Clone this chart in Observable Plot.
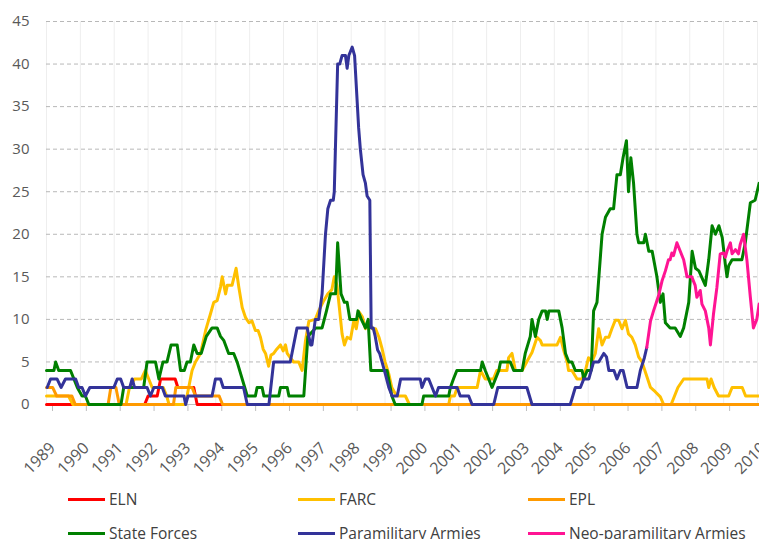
<!DOCTYPE html>
<html><head><meta charset="utf-8">
<script src="https://cdn.jsdelivr.net/npm/d3@7"></script>
<script src="https://cdn.jsdelivr.net/npm/@observablehq/plot@0.6"></script>
<style>
body{margin:0;background:#fff;font-family:"Open Sans",sans-serif;}
#wrap{position:relative;width:759px;height:539px;overflow:hidden;}
.leg{position:absolute;display:flex;align-items:center;font-size:15.5px;color:#404040;white-space:nowrap;line-height:16px;}
.leg .sw{display:inline-block;width:37px;height:3px;margin-right:4px;}
</style></head><body><div id="wrap"></div>
<script>
const seriesNames = ["ELN","FARC","EPL","State Forces","Paramilitary Armies","Neo-paramilitary Armies"];
const seriesColors = ["#FF0000","#FFC000","#FF9A00","#008000","#333399","#FF1493"];
const yearLabels = ["1989","1990","1991","1992","1993","1994","1995","1996","1997","1998","1999","2000","2001","2002","2003","2004","2005","2006","2007","2008","2009","2010"];
const yTicks = [0,5,10,15,20,25,30,35,40,45];

const eln = [[1989,0],[1991.9,0],[1992.0,1],[1992.27,1],[1992.37,3],[1992.8,3],[1992.88,2],[1993.35,2],[1993.45,0],[2010.05,0]];
const farc = [[1989,1],[1989.65,1],[1989.78,0],[1991.35,0],[1991.45,2],[1991.6,3],[1991.8,3],[1991.92,4],[1992.02,3],[1992.12,2],[1992.45,2],[1992.55,1],[1992.62,0],[1993.1,0],[1993.2,2],[1993.3,4],[1993.4,5],[1993.55,6],[1993.7,8.7],[1993.84,10.6],[1993.94,12],[1994.04,12.2],[1994.14,13.8],[1994.19,15],[1994.29,13],[1994.34,14],[1994.48,14],[1994.6,16],[1994.68,13.8],[1994.78,11.4],[1994.88,10.2],[1994.98,9.6],[1995.07,9.8],[1995.17,8.7],[1995.25,8.7],[1995.32,7.9],[1995.4,6.5],[1995.47,6],[1995.56,4.5],[1995.63,5.8],[1995.71,6],[1995.8,6.5],[1995.91,7],[1995.99,6.3],[1996.06,7],[1996.11,6],[1996.2,5.5],[1996.3,5],[1996.45,5],[1996.55,4],[1996.65,7.5],[1996.75,9.8],[1996.94,10],[1997.04,11],[1997.19,12.2],[1997.31,13],[1997.43,13.5],[1997.5,15],[1997.58,14],[1997.65,11.4],[1997.73,8.3],[1997.8,7],[1997.88,7.9],[1997.98,7.7],[1998.08,9.9],[1998.15,8.9],[1998.23,10.9],[1998.33,10.3],[1998.42,8.9],[1998.52,9.9],[1998.62,8.9],[1998.72,8.9],[1998.82,7.9],[1998.91,6.6],[1999.0,5],[1999.11,3.6],[1999.2,2],[1999.3,1.3],[1999.4,1],[1999.6,1],[1999.72,0],[2000.88,0],[2000.93,1],[2001.05,1],[2001.13,2],[2001.72,2],[2001.77,3],[2001.82,4],[2001.96,3],[2002.2,3],[2002.3,4],[2002.6,4],[2002.65,5.5],[2002.75,6],[2002.85,4],[2003.05,4],[2003.24,5.4],[2003.34,6.1],[2003.49,7.9],[2003.59,7.5],[2003.64,7],[2004.08,7],[2004.18,7.9],[2004.28,6.3],[2004.38,5],[2004.42,4],[2004.52,4],[2004.67,3],[2004.82,3],[2004.92,4],[2005.01,5.5],[2005.11,5],[2005.21,6],[2005.31,8.9],[2005.41,7],[2005.51,7.9],[2005.61,7.9],[2005.7,8.9],[2005.8,9.9],[2005.9,9.9],[2006.0,8.9],[2006.1,9.9],[2006.19,8.3],[2006.29,7.9],[2006.39,7],[2006.49,5.6],[2006.59,5],[2006.74,3.2],[2006.84,2],[2006.98,1.5],[2007.13,0.9],[2007.23,0],[2007.45,0],[2007.55,1],[2007.65,2],[2007.82,3],[2008.51,3],[2008.56,2],[2008.63,3],[2008.72,2],[2008.85,1],[2009.15,1],[2009.25,2],[2009.55,2],[2009.65,1],[2010.05,1]];
const epl = [[1989,2],[1989.18,2],[1989.3,1],[1989.75,1],[1989.85,0],[1990.82,0],[1990.9,2],[1991.05,2],[1991.15,0],[1992.75,0],[1992.82,2],[1993.3,2],[1993.4,1],[1994.1,1],[1994.2,0],[2010.05,0]];
const stateForces = [[1989.0,4],[1989.22,4],[1989.27,5],[1989.36,4],[1989.71,4],[1989.91,2],[1990.05,1],[1990.15,1],[1990.25,0],[1991.2,0],[1991.28,2],[1991.87,2],[1991.97,5],[1992.22,5],[1992.32,3],[1992.44,5],[1992.56,5],[1992.68,7],[1992.86,7],[1992.96,4],[1993.07,4],[1993.15,5],[1993.25,5],[1993.35,7],[1993.45,6],[1993.57,6],[1993.72,8],[1993.89,9],[1994.04,9],[1994.14,8],[1994.24,7.5],[1994.38,6],[1994.53,6],[1994.63,5],[1994.93,1],[1995.17,1],[1995.22,2],[1995.37,2],[1995.42,1],[1995.86,1],[1995.91,2],[1996.11,2],[1996.16,1],[1996.6,1],[1996.72,8],[1996.95,9],[1997.14,9],[1997.27,11],[1997.39,13],[1997.54,13],[1997.6,19],[1997.7,13],[1997.8,12],[1997.88,12],[1997.96,10],[1998.16,10],[1998.2,11],[1998.3,10],[1998.42,9],[1998.5,10],[1998.58,4],[1999.06,4],[1999.2,1],[1999.3,0],[2000.09,0],[2000.14,1],[2000.88,1],[2000.93,2],[2001.02,3],[2001.12,4],[2001.82,4],[2001.87,5],[2001.96,4],[2002.06,3],[2002.16,2],[2002.26,3],[2002.36,4],[2002.41,5],[2002.7,5],[2002.8,4],[2003.05,4],[2003.14,6],[2003.29,8],[2003.34,10],[2003.44,8],[2003.54,10],[2003.64,11],[2003.74,11],[2003.79,10],[2003.84,11],[2004.13,11],[2004.23,9],[2004.33,6],[2004.43,5],[2004.52,5],[2004.62,4],[2004.82,4],[2004.87,3],[2004.97,4],[2005.09,4],[2005.16,11],[2005.26,12],[2005.41,20],[2005.51,22],[2005.65,23],[2005.75,23],[2005.85,27],[2005.95,27],[2006.03,29],[2006.13,31],[2006.19,25],[2006.26,29],[2006.34,26],[2006.44,20],[2006.49,19],[2006.64,19],[2006.69,20],[2006.79,18],[2006.89,18],[2007.03,15],[2007.13,12],[2007.21,13],[2007.28,9.6],[2007.42,9],[2007.57,9],[2007.72,8],[2007.82,9],[2007.97,12],[2008.07,18],[2008.17,16],[2008.27,15.7],[2008.46,14],[2008.56,17],[2008.66,21],[2008.76,20],[2008.86,21],[2008.96,19.6],[2009.05,16.5],[2009.1,15],[2009.15,16.3],[2009.25,17],[2009.54,17],[2009.64,19],[2009.79,23.7],[2009.93,24],[2010.05,26]];
const paramilitary = [[1989.02,2],[1989.12,3],[1989.31,3],[1989.43,2],[1989.56,3],[1989.86,3],[1989.95,2],[1990.05,2],[1990.15,1],[1990.28,2],[1990.99,2],[1991.09,3],[1991.19,3],[1991.28,2],[1991.46,2],[1991.53,3],[1991.6,2],[1991.97,2],[1992.07,1],[1992.17,2],[1992.42,2],[1992.51,1],[1993.06,1],[1993.11,0],[1993.18,1],[1993.89,1],[1993.99,3],[1994.14,3],[1994.22,2],[1994.82,2],[1994.93,0],[1995.57,0],[1995.71,5],[1996.2,5],[1996.25,6],[1996.4,9],[1996.7,9],[1996.8,7],[1996.84,7],[1996.94,10],[1997.04,10],[1997.14,13],[1997.24,20],[1997.31,23],[1997.39,24],[1997.47,24],[1997.5,25],[1997.6,40],[1997.66,40],[1997.73,41],[1997.83,41],[1997.88,39.5],[1997.93,41],[1998.03,42],[1998.1,41],[1998.22,32.5],[1998.27,30],[1998.35,27],[1998.42,26],[1998.47,24.5],[1998.55,24],[1998.59,9],[1998.65,9],[1998.71,8],[1998.78,6.4],[1998.84,6],[1998.91,5],[1998.98,4],[1999.11,2],[1999.21,1],[1999.36,1],[1999.46,3],[2000.04,3],[2000.09,2],[2000.19,3],[2000.29,3],[2000.39,2],[2000.49,1],[2000.58,2],[2001.13,2],[2001.22,1],[2001.47,1],[2001.57,0],[2002.21,0],[2002.33,2],[2003.19,2],[2003.34,0],[2004.47,0],[2004.62,2],[2004.77,2],[2004.87,3],[2005.02,3],[2005.16,5],[2005.31,5],[2005.46,6],[2005.54,5.6],[2005.61,4],[2005.76,4],[2005.85,3],[2005.95,4],[2006.03,4],[2006.15,2],[2006.44,2],[2006.54,4],[2006.66,5.5],[2006.73,6.7]];
const neoParamilitary = [[2006.73,6.7],[2006.84,9.8],[2006.93,11],[2007.08,12.8],[2007.18,14.5],[2007.28,15.7],[2007.37,17],[2007.42,17],[2007.47,17.8],[2007.52,17.5],[2007.62,19],[2007.72,18],[2007.82,17],[2007.92,15],[2008.06,15],[2008.16,14],[2008.21,12.6],[2008.31,13.4],[2008.36,11.8],[2008.46,11],[2008.56,9],[2008.61,7],[2008.7,10.6],[2008.8,13.7],[2008.9,17.7],[2009.0,17.8],[2009.05,17.3],[2009.1,18],[2009.2,19],[2009.25,17.7],[2009.35,18.2],[2009.44,17.7],[2009.49,18.8],[2009.59,20],[2009.69,16.9],[2009.79,12.6],[2009.88,9],[2009.98,10],[2010.05,11.8]];

const seriesData = [eln, farc, epl, stateForces, paramilitary, neoParamilitary];
const yearTicks = yearLabels.map(Number);
const rows = seriesNames.flatMap((name, i) => seriesData[i].map(([t, v]) => ({name, t, v})));

const chart = Plot.plot({
  width: 759, height: 539,
  marginLeft: 46, marginRight: 0, marginTop: 21, marginBottom: 135,
  style: {fontFamily: "'Open Sans', sans-serif", fontSize: "15px", background: "transparent"},
  x: {domain: [1989, 2010.06]},
  y: {domain: [0, 45]},
  color: {domain: seriesNames, range: seriesColors},
  marks: [
    Plot.ruleX(yearTicks, {stroke: "#eeeeee"}),
    Plot.gridY(yTicks, {stroke: "#b8b8b8", strokeOpacity: 1, strokeDasharray: "4,3"}),
    Plot.axisY(yTicks, {tickSize: 0, tickPadding: 17, fill: "#595959", fontSize: 15, label: null}),
    Plot.axisX(yearTicks, {tickFormat: d => yearLabels[d - 1989], tickRotate: -45, tickSize: 7, tickPadding: 34, dx: 6, stroke: "#bfbfbf", fill: "#595959", fontSize: 16, label: null}),
    Plot.ruleY([0], {stroke: "#bfbfbf"}),
    Plot.line(rows, {x: "t", y: "v", z: "name", stroke: "name", strokeWidth: 3, strokeLinejoin: "round", strokeLinecap: "round"})
  ]
});
const wrap = document.getElementById("wrap");
wrap.appendChild(chart);
chart.style.position = "absolute"; chart.style.left = "0"; chart.style.top = "0";

const legX = [68, 298, 528], legY = [499, 533];
seriesNames.forEach((name, i) => {
  const d = document.createElement("div");
  d.className = "leg";
  d.style.left = legX[i % 3] + "px";
  d.style.top = (legY[Math.floor(i / 3)] - 8) + "px";
  const sw = document.createElement("span");
  sw.className = "sw"; sw.style.background = seriesColors[i];
  d.appendChild(sw);
  d.appendChild(document.createTextNode(name));
  wrap.appendChild(d);
});
</script></body></html>
